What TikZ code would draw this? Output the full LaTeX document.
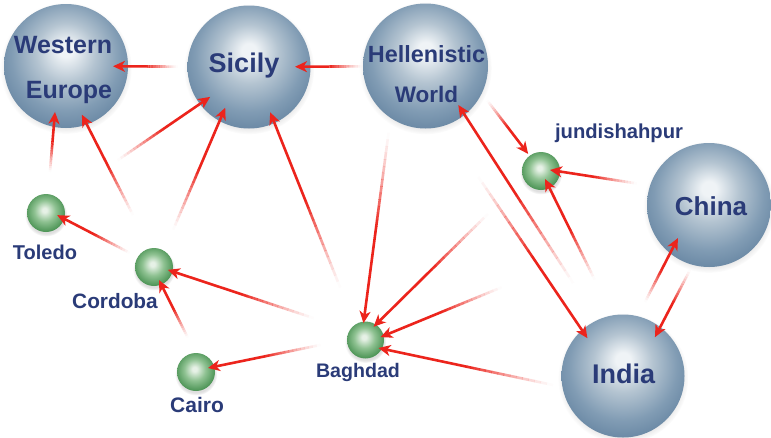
\documentclass[tikz,border=0pt]{standalone}
\usepackage{fontspec}
\setmainfont{Liberation Sans}
\usetikzlibrary{calc,arrows.meta,shadows}
\definecolor{txt}{HTML}{2A3B78}
\definecolor{arr}{RGB}{236,36,28}
\definecolor{bbA}{HTML}{EFF3F6}
\definecolor{bbB}{HTML}{B4C4D1}
\definecolor{bbC}{HTML}{819CB4}
\definecolor{bbD}{HTML}{6584A1}
\definecolor{gA}{HTML}{E6F1E6}
\definecolor{gB}{HTML}{8FC292}
\definecolor{gC}{HTML}{4E9557}
\pgfdeclareradialshading{bigball}{\pgfqpoint{0bp}{7bp}}{color(0bp)=(bbA); color(3bp)=(bbA); color(12bp)=(bbB); color(22bp)=(bbC); color(30bp)=(bbD); color(50bp)=(bbD)}
\pgfdeclareradialshading{gball}{\pgfqpoint{-2bp}{4bp}}{color(0bp)=(gA); color(3bp)=(gA); color(14bp)=(gB); color(26bp)=(gC); color(50bp)=(gC)}
\tikzset{
  big/.style={circle, inner sep=0pt, shading=bigball, minimum size=124pt,
    circular drop shadow={shadow xshift=0pt, shadow yshift=-2pt, shadow scale=1.06, opacity=0.25}},
  small/.style={circle, inner sep=0pt, shading=gball, minimum size=38pt,
    circular drop shadow={shadow xshift=0pt, shadow yshift=-2pt, shadow scale=1.12, opacity=0.25}},
  lab/.style={anchor=base, inner sep=0pt, text=txt, font=\bfseries},
  arrline/.style={draw=arr, line width=2.6pt, line cap=butt},
}
\newcommand\farrow[6]{%
  \coordinate (ftl) at ($(#1)!#3!(#2)!#5!-90:(#2)$);
  \coordinate (fhd) at ($(#2)!#4!(#1)!#6!90:(#1)$);
  \foreach \k in {0,...,13}{%
    \pgfmathsetmacro\fa{\k*0.035}%
    \pgfmathsetmacro\fb{\fa+0.037}%
    \pgfmathsetmacro\fo{((\k+0.5)/14)^1.3}%
    \draw[arrline, draw opacity=\fo] ($(ftl)!\fa!(fhd)$) -- ($(ftl)!\fb!(fhd)$);
  }
  \draw[arrline, -{Stealth[length=12pt,width=11pt,inset=3.5pt]}] ($(ftl)!0.49!(fhd)$) -- (fhd);
}
\begin{document}
\begin{tikzpicture}[x=1pt, y=-1pt]
\fill[white] (0,0) rectangle (771,437);
\useasboundingbox (0,0) rectangle (771,437);
% spheres
\node[big] (we) at (66,66) {};
\node[big, minimum size=123pt] (sic) at (249,67) {};
\node[big, minimum size=125pt] (hel) at (425.5,66) {};
\node[big] (chi) at (709,205) {};
\node[big, minimum size=123pt] (ind) at (623,376) {};
\node[small] (tol) at (46,213) {};
\node[small] (cor) at (154,267) {};
\node[small] (cai) at (196,372) {};
\node[small, minimum size=37pt] (bag) at (365.5,340) {};
\node[small] (jun) at (541,171) {};
% labels
\node[lab, font=\bfseries\fontsize{25}{30}\selectfont] (we1) at (63,53) {Western};
\node[lab, font=\bfseries\fontsize{25}{30}\selectfont] (we2) at (69,98) {Europe};
\node[lab, font=\bfseries\fontsize{27}{32}\selectfont] (sicl) at (244,72) {Sicily};
\node[lab, font=\bfseries\fontsize{23.4}{28}\selectfont] (hel1) at (426.5,62) {Hellenistic};
\node[lab, font=\bfseries\fontsize{22.5}{28}\selectfont] (hel2) at (426.5,102) {World};
\node[lab, font=\bfseries\fontsize{26}{31}\selectfont] (chil) at (711,215) {China};
\node[lab, font=\bfseries\fontsize{27}{32}\selectfont] (indl) at (623.5,383) {India};
\node[lab, font=\bfseries\fontsize{20}{24}\selectfont] (toll) at (45,259) {Toledo};
\node[lab, font=\bfseries\fontsize{20.8}{24}\selectfont] (corl) at (115,308) {Cordoba};
\node[lab, font=\bfseries\fontsize{21}{24}\selectfont] (cail) at (197,412) {Cairo};
\node[lab, font=\bfseries\fontsize{19.6}{24}\selectfont] (bagl) at (358,377) {Baghdad};
\node[lab, font=\bfseries\fontsize{20.2}{24}\selectfont] (junl) at (619,138) {jundishahpur};
% connectors
\farrow{sic}{we}{71pt}{47pt}{0pt}{0pt}
\farrow{hel}{sic}{63pt}{46pt}{0pt}{0pt}
\farrow{tol}{we}{41pt}{47pt}{-1.6pt}{-4.7pt}
\farrow{cor}{we}{56pt}{51pt}{1.6pt}{-5pt}
\farrow{tol}{sic}{89pt}{49pt}{-1pt}{1.6pt}
\farrow{cor}{sic}{42pt}{47pt}{1.3pt}{-4pt}
\farrow{bag}{sic}{58pt}{50pt}{-2.7pt}{1.7pt}
\farrow{cor}{tol}{28pt}{11pt}{1.8pt}{3.1pt}
\farrow{bag}{cor}{56pt}{14pt}{3.8pt}{1.8pt}
\farrow{cai}{cor}{35pt}{14pt}{5.2pt}{-0.2pt}
\farrow{bag}{cai}{45pt}{12.5pt}{3.5pt}{1.7pt}
\farrow{hel}{bag}{73pt}{16pt}{21.8pt}{5.6pt}
\farrow{jun}{bag}{68pt}{15pt}{5.9pt}{3.9pt}
\farrow{chi}{bag}{223pt}{15pt}{-0.7pt}{-2.8pt}
\farrow{ind}{bag}{68pt}{14pt}{-18.6pt}{-6.1pt}
\farrow{ind}{hel}{105pt}{50.5pt}{7.9pt}{6.7pt}
\farrow{hel}{ind}{122pt}{51pt}{15pt}{9.7pt}
\farrow{hel}{jun}{69pt}{21pt}{-16pt}{-4pt}
\farrow{chi}{jun}{75pt}{8.6pt}{6.8pt}{2.8pt}
\farrow{ind}{jun}{100pt}{9pt}{9.5pt}{0.8pt}
\farrow{ind}{chi}{76pt}{43.5pt}{-13.6pt}{-12.9pt}
\farrow{chi}{ind}{66.5pt}{49pt}{-12.2pt}{-11.1pt}
\end{tikzpicture}
\end{document}
